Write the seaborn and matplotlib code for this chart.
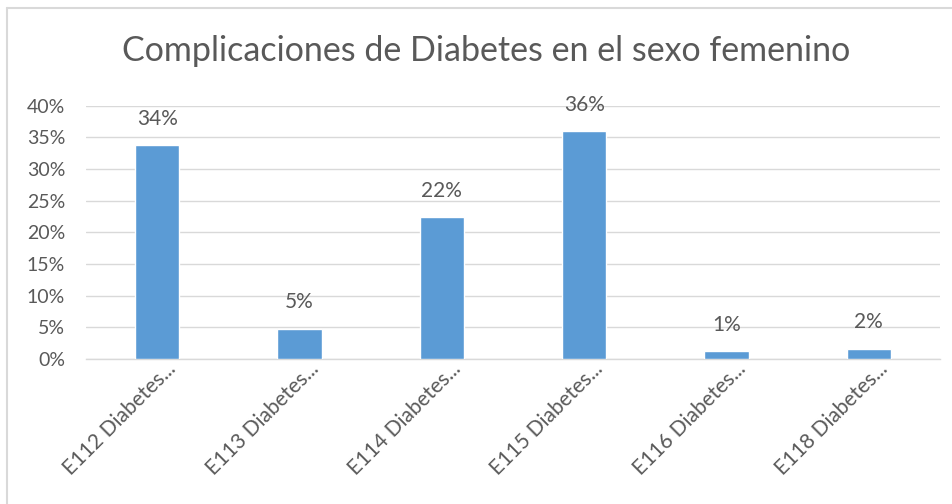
import matplotlib
matplotlib.use("Agg")
import matplotlib.pyplot as plt
import seaborn as sns
import pandas as pd
from matplotlib.lines import Line2D
from matplotlib.ticker import FuncFormatter
from matplotlib.transforms import ScaledTranslation

categories = ["E112 Diabetes...", "E113 Diabetes...", "E114 Diabetes...",
              "E115 Diabetes...", "E116 Diabetes...", "E118 Diabetes..."]
values = [33.8, 4.8, 22.4, 36.0, 1.2, 1.6]
value_labels = ["34%", "5%", "22%", "36%", "1%", "2%"]
title = "Complicaciones de Diabetes en el sexo femenino"

sns.set_theme(style="white")
plt.rcParams['font.family'] = ['Lato', 'DejaVu Sans']

df = pd.DataFrame({"cat": categories, "val": values})

fig = plt.figure(figsize=(9.53, 5.04), dpi=100)
ax = fig.add_axes([86/953, 1-359/504, (940-86)/953, (359-105.7)/504])

grey = "#595959"
sns.barplot(data=df, x="cat", y="val", color="#5b9bd5", width=0.31,
            saturation=1, ax=ax, zorder=3)

ax.set_ylim(0, 40)
ax.set_xlim(-0.5, len(categories) - 0.5)
ax.set_yticks(range(0, 41, 5))
ax.yaxis.set_major_formatter(FuncFormatter(lambda v, p: f"{int(v)}%"))
ax.grid(axis="y", color="#d9d9d9", linewidth=1, zorder=0)
for s in ["top", "right", "left"]:
    ax.spines[s].set_visible(False)
ax.spines["bottom"].set_color("#d9d9d9")
ax.spines["bottom"].set_linewidth(1)
ax.set_xlabel("")
ax.set_ylabel("")
ax.tick_params(axis="both", length=0, colors=grey)
ax.tick_params(axis="y", pad=15, labelsize=14)
ax.tick_params(axis="x", pad=5, labelsize=15)
plt.setp(ax.get_xticklabels(), rotation=45, ha="right", va="center",
         rotation_mode="anchor")
off = ScaledTranslation(16/100, 0, fig.dpi_scale_trans)
for lbl in ax.get_xticklabels():
    lbl.set_color(grey)
    lbl.set_transform(lbl.get_transform() + off)

for i, (v, t) in enumerate(zip(values, value_labels)):
    ax.annotate(t, (i, v), xytext=(0, 19), textcoords="offset points",
                ha="center", va="center", fontsize=15, color=grey)

fig.text(486/953, 1 - 51/504, title, ha="center", va="center", fontsize=24.5,
         color=grey)

fig.add_artist(Line2D([6.5/953, 6.5/953], [0, 1 - 8/504], transform=fig.transFigure,
                      color="#d9d9d9", linewidth=1.5))
fig.add_artist(Line2D([6.5/953, 1], [1 - 8/504, 1 - 8/504], transform=fig.transFigure,
                      color="#d9d9d9", linewidth=1.5))

fig.savefig("out.png", dpi=100, facecolor="white")
